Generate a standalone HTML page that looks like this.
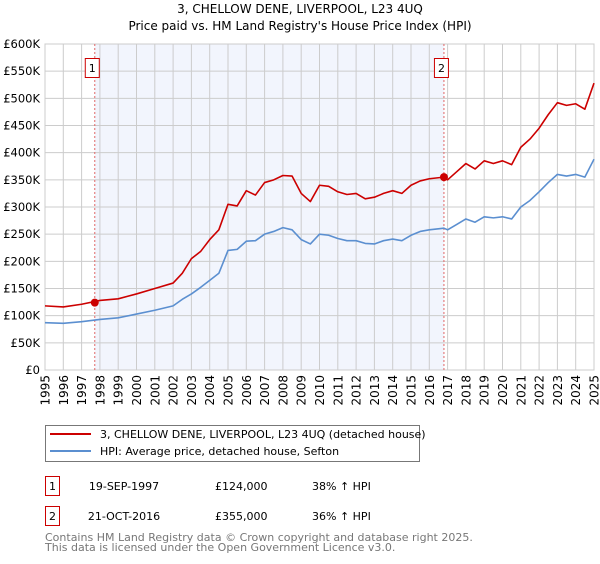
<!DOCTYPE html>
<html><head><meta charset="utf-8"><style>
body{margin:0;background:#fff;font-family:"DejaVu Sans","Liberation Sans",sans-serif;}
svg text{font-family:"DejaVu Sans","Liberation Sans",sans-serif;}
</style></head><body>
<svg id="c" width="600" height="560" xmlns="http://www.w3.org/2000/svg">
<text x="300" y="13" text-anchor="middle" font-size="12">3, CHELLOW DENE, LIVERPOOL, L23 4UQ</text>
<text x="300" y="30" text-anchor="middle" font-size="12">Price paid vs. HM Land Registry's House Price Index (HPI)</text>
<g id="plot"></g>
<g id="xlabels" font-size="12" text-anchor="end"></g>
<g>
<rect x="45.5" y="425.5" width="374" height="36" fill="#fff" stroke="#777"/>
<line x1="50" y1="434" x2="91" y2="434" stroke="#cc0000" stroke-width="2"/>
<text x="100" y="438" font-size="11">3, CHELLOW DENE, LIVERPOOL, L23 4UQ (detached house)</text>
<line x1="50" y1="451" x2="91" y2="451" stroke="#5b8fd0" stroke-width="2"/>
<text x="100" y="455" font-size="11">HPI: Average price, detached house, Sefton</text>
</g>
<g font-size="11">
<rect x="45.5" y="476.5" width="14" height="19" fill="#fff" stroke="#cc0000"/>
<text x="52.5" y="490" text-anchor="middle">1</text>
<text x="124" y="490" text-anchor="middle">19-SEP-1997</text>
<text x="215" y="490">£124,000</text>
<text x="312" y="490">38% ↑ HPI</text>
<rect x="45.5" y="506.5" width="14" height="19" fill="#fff" stroke="#cc0000"/>
<text x="52.5" y="520" text-anchor="middle">2</text>
<text x="124" y="520" text-anchor="middle">21-OCT-2016</text>
<text x="215" y="520">£355,000</text>
<text x="312" y="520">36% ↑ HPI</text>
</g>
<text x="45" y="541" font-size="11" fill="#777">Contains HM Land Registry data © Crown copyright and database right 2025.</text>
<text x="45" y="551" font-size="11" fill="#777">This data is licensed under the Open Government Licence v3.0.</text>
</svg>
<script>
const years=[1995,1996,1997,1998,1999,2000,2001,2002,2002.5,2003,2003.5,2004,2004.5,2005,2005.5,2006,2006.5,2007,2007.5,2008,2008.5,2009,2009.5,2010,2010.5,2011,2011.5,2012,2012.5,2013,2013.5,2014,2014.5,2015,2015.5,2016,2016.8,2017,2017.5,2018,2018.5,2019,2019.5,2020,2020.5,2021,2021.5,2022,2022.5,2023,2023.5,2024,2024.5,2025];
const priceSeries=[118,116,121,128,131,140,150,160,178,205,218,240,258,305,302,330,322,345,350,358,357,325,310,340,338,328,323,325,315,318,325,330,325,340,348,352,355,350,365,380,370,385,380,385,378,410,425,445,470,492,487,490,480,528];
const hpiSeries=[87,86,89,93,96,103,110,118,130,140,152,165,178,220,222,237,238,250,255,262,258,240,232,250,248,242,238,238,233,232,238,241,238,248,255,258,261,258,268,278,272,282,280,282,278,300,312,328,345,360,357,360,355,388];
const saleYears=[1997.72,2016.8];
const saleValues=[124,355];
const yTicks=[0,50,100,150,200,250,300,350,400,450,500,550,600];
const yTickLabels=["£0","£50K","£100K","£150K","£200K","£250K","£300K","£350K","£400K","£450K","£500K","£550K","£600K"];
const xTicks=[1995,1996,1997,1998,1999,2000,2001,2002,2003,2004,2005,2006,2007,2008,2009,2010,2011,2012,2013,2014,2015,2016,2017,2018,2019,2020,2021,2022,2023,2024,2025];
const X0=45,X1=594,Y0=370,Y1=44;
const xs=y=>X0+(y-1995)/30*(X1-X0);
const ys=v=>Y0-v/600*(Y0-Y1);
const NS="http://www.w3.org/2000/svg";
const g=document.getElementById('plot');
const xl=document.getElementById('xlabels');
function mk(t,a,p){const e=document.createElementNS(NS,t);for(const k in a)e.setAttribute(k,a[k]);(p||g).appendChild(e);return e;}
let sh=mk('rect',{x:xs(saleYears[0]),y:Y1,width:xs(saleYears[1])-xs(saleYears[0]),height:Y0-Y1,fill:'#f2f5fd'});


xTicks.forEach(t=>{const l=mk('line',{x1:xs(t),x2:xs(t),y1:Y1,y2:Y0,stroke:'#ccc'});


const grp=mk('g',{},xl);
grp.setAttribute('transform','translate('+(xs(t)+4.5)+',375)');
const tx=mk('text',{x:0,y:0},grp);
tx.setAttribute('transform','rotate(-90)');
tx.style.transform='rotate(-90deg)';
tx.textContent=t;

});
yTicks.forEach((t,i)=>{const l=mk('line',{x1:X0,x2:X1,y1:ys(t),y2:ys(t),stroke:'#ccc'});


const tx=mk('text',{x:40,y:ys(t)+4,'font-size':11.5,'text-anchor':'end'});tx.textContent=yTickLabels[i];

});
mk('rect',{x:X0,y:Y1,width:X1-X0,height:Y0-Y1,fill:'none',stroke:'#ccc'});
saleYears.forEach((s,i)=>{const l=mk('line',{x1:xs(s),x2:xs(s),y1:Y1,y2:Y0,stroke:'#e06666','stroke-dasharray':'2,2'});


const b=mk('rect',{x:xs(s)-9.5,y:58.5,width:14,height:19,fill:'#fff',stroke:'#cc0000'});


const t=mk('text',{x:xs(s)-2.5,y:72,'font-size':11,'text-anchor':'middle'});t.textContent=i+1;

});
function line(vals,col,name){const p=mk('polyline',{points:years.map((y,i)=>xs(y)+','+ys(vals[i])).join(' '),fill:'none',stroke:col,'stroke-width':1.6,'stroke-linejoin':'round'});

}
line(hpiSeries,'#5b8fd0','hpi-line');
line(priceSeries,'#cc0000','property-price-line');
saleYears.forEach((s,i)=>{const c=mk('circle',{cx:xs(s),cy:ys(saleValues[i]),r:4,fill:'#cc0000'});

});
</script>
</body></html>
